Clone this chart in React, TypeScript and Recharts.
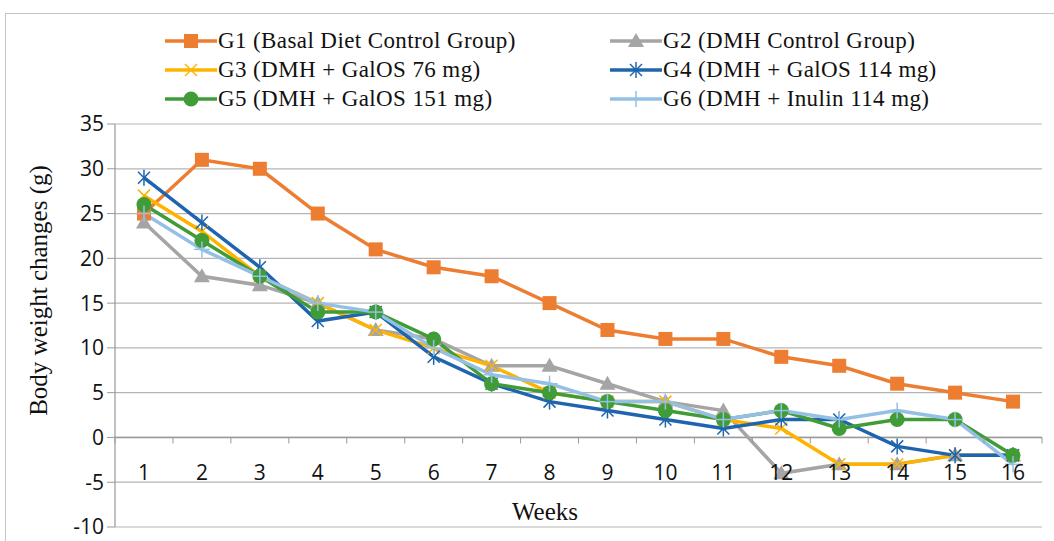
import React from "react";
import {
  LineChart,
  Line,
  XAxis,
  YAxis,
  CartesianGrid,
  ReferenceLine,
} from "recharts";

// weekly body weight changes (g) per group
const weeks = ["1", "2", "3", "4", "5", "6", "7", "8", "9", "10", "11", "12", "13", "14", "15", "16"];
const g1 = [25, 31, 30, 25, 21, 19, 18, 15, 12, 11, 11, 9, 8, 6, 5, 4];
const g2 = [24, 18, 17, 15, 12, 11, 8, 8, 6, 4, 3, -4, -3, -3, -2, -2];
const g3 = [27, 23, 18, 15, 12, 10, 8, 5, 4, 4, 2, 1, -3, -3, -2, -2];
const g4 = [29, 24, 19, 13, 14, 9, 6, 4, 3, 2, 1, 2, 2, -1, -2, -2];
const g5 = [26, 22, 18, 14, 14, 11, 6, 5, 4, 3, 2, 3, 1, 2, 2, -2];
const g6 = [25, 21, 18, 15, 14, 10, 7, 6, 4, 4, 2, 3, 2, 3, 2, -3];
const yTicks = [-10, -5, 0, 5, 10, 15, 20, 25, 30, 35];

type Shape = "square" | "triangle" | "x" | "asterisk" | "circle" | "plus";

const series: { key: string; name: string; color: string; shape: Shape; values: number[] }[] = [
  { key: "g1", name: "G1 (Basal Diet Control Group)", color: "#ED7D31", shape: "square", values: g1 },
  { key: "g2", name: "G2 (DMH Control Group)", color: "#A5A5A5", shape: "triangle", values: g2 },
  { key: "g3", name: "G3 (DMH + GalOS 76 mg)", color: "#FFB300", shape: "x", values: g3 },
  { key: "g4", name: "G4 (DMH + GalOS 114 mg)", color: "#1F64AE", shape: "asterisk", values: g4 },
  { key: "g5", name: "G5 (DMH + GalOS 151 mg)", color: "#409C37", shape: "circle", values: g5 },
  { key: "g6", name: "G6 (DMH + Inulin 114 mg)", color: "#95C0E6", shape: "plus", values: g6 },
];

const data = weeks.map((w, i) => {
  const row: Record<string, string | number> = { week: w };
  series.forEach((s) => (row[s.key] = s.values[i]));
  return row;
});

const W = 1054;
const H = 541;
const margin = { top: 124, right: 12, bottom: 13, left: 0 };
const yAxisW = 115;
const plotH = H - margin.top - margin.bottom - 1;
const plotW = W - margin.left - margin.right - yAxisW;
const band = plotW / weeks.length;
const zeroY = margin.top + (plotH * 35) / 45;

const Marker = ({ shape, cx, cy, color }: { shape: Shape; cx: number; cy: number; color: string }) => {
  switch (shape) {
    case "square":
      return <rect x={cx - 7} y={cy - 7} width={14} height={14} fill={color} />;
    case "triangle":
      return <polygon points={`${cx},${cy - 8} ${cx + 8},${cy + 6} ${cx - 8},${cy + 6}`} fill={color} />;
    case "x":
      return (
        <g stroke={color} strokeWidth={1.5}>
          <line x1={cx - 6} y1={cy - 6} x2={cx + 6} y2={cy + 6} />
          <line x1={cx - 6} y1={cy + 6} x2={cx + 6} y2={cy - 6} />
        </g>
      );
    case "asterisk":
      return (
        <g stroke={color} strokeWidth={1.5}>
          <line x1={cx - 6} y1={cy - 6} x2={cx + 6} y2={cy + 6} />
          <line x1={cx - 6} y1={cy + 6} x2={cx + 6} y2={cy - 6} />
          <line x1={cx} y1={cy - 8} x2={cx} y2={cy + 8} />
        </g>
      );
    case "circle":
      return <circle cx={cx} cy={cy} r={7.5} fill={color} />;
    case "plus":
    default:
      return (
        <g stroke={color} strokeWidth={1.5}>
          <line x1={cx - 8} y1={cy} x2={cx + 8} y2={cy} />
          <line x1={cx} y1={cy - 8} x2={cx} y2={cy + 8} />
        </g>
      );
  }
};

const XTick = (props: any) => {
  const { x, payload, index } = props;
  const left = x - band / 2;
  return (
    <g>
      <line x1={left} y1={zeroY} x2={left} y2={zeroY + 6} stroke="#999" />
      {index === weeks.length - 1 && (
        <line x1={x + band / 2} y1={zeroY} x2={x + band / 2} y2={zeroY + 6} stroke="#999" />
      )}
      <text x={x} y={zeroY + 43} textAnchor="middle" fontSize={21} fill="#111" fontFamily="'Open Sans', sans-serif">
        {payload.value}
      </text>
    </g>
  );
};

const LegendBox = () => (
  <div
    style={{
      position: "absolute",
      left: 165,
      top: 28,
      display: "grid",
      gridTemplateColumns: "445px 400px",
      rowGap: 3,
      fontFamily: "'Liberation Serif', 'DejaVu Serif', serif",
      fontSize: 23,
      letterSpacing: 0.4,
      color: "#111",
    }}
  >
    {series.map((s) => (
      <div key={s.key} style={{ display: "flex", alignItems: "center", height: 26 }}>
        <svg width={52} height={26} style={{ marginRight: 1 }}>
          <line x1={0} y1={13} x2={52} y2={13} stroke={s.color} strokeWidth={3.5} />
          <Marker shape={s.shape} cx={26} cy={13} color={s.color} />
        </svg>
        <span>{s.name}</span>
      </div>
    ))}
  </div>
);

export default function App() {
  return (
    <div style={{ position: "absolute", left: 0, top: 0, width: W, height: H, overflow: "hidden", background: "#fff" }}>
      <div
        style={{
          position: "absolute",
          left: 5,
          top: 13,
          width: 1100,
          height: 600,
          border: "1px solid #c4c4c4",
        }}
      />
      <LegendBox />
      <div style={{ position: "absolute", left: 0, top: 0 }}>
        <LineChart width={W} height={H} data={data} margin={margin}>
          <CartesianGrid vertical={false} stroke="#b5b5b5" strokeWidth={1.2} />
          <XAxis
            dataKey="week"
            height={1}
            axisLine={false}
            tickLine={false}
            interval={0}
            padding={{ left: band / 2, right: band / 2 }}
            tick={(p: any) => <XTick {...p} />}
          />
          <YAxis
            width={yAxisW}
            domain={[-10, 35]}
            ticks={yTicks}
            interval={0}
            axisLine={{ stroke: "#999", strokeWidth: 1.2 }}
            tickLine={{ stroke: "#999" }}
            tickSize={8}
            tickMargin={3}
            tick={{ fontSize: 21, fill: "#111", fontFamily: "'Open Sans', sans-serif" }}
            label={(p: any) => (
              <text
                x={38}
                y={p.viewBox.y + p.viewBox.height / 2 - 35}
                transform={`rotate(-90 38 ${p.viewBox.y + p.viewBox.height / 2 - 35})`}
                textAnchor="middle"
                dominantBaseline="central"
                fontSize={25}
                fontFamily="'Liberation Serif', serif"
                fill="#111"
              >
                Body weight changes (g)
              </text>
            )}
          />
          <ReferenceLine y={0} stroke="#999" strokeWidth={1.5} />
          {series.map((s) => (
            <Line
              key={s.key}
              dataKey={s.key}
              name={s.name}
              stroke={s.color}
              strokeWidth={3.5}
              isAnimationActive={false}
              dot={(p: any) => (
                <Marker key={`${s.key}-${p.index}`} shape={s.shape} cx={p.cx} cy={p.cy} color={s.color} />
              )}
              activeDot={false}
            />
          ))}
        </LineChart>
      </div>
      <div
        style={{
          position: "absolute",
          left: 545,
          top: 498,
          transform: "translateX(-50%)",
          fontFamily: "'Liberation Serif', serif",
          fontSize: 25,
          color: "#111",
        }}
      >
        Weeks
      </div>
    </div>
  );
}
